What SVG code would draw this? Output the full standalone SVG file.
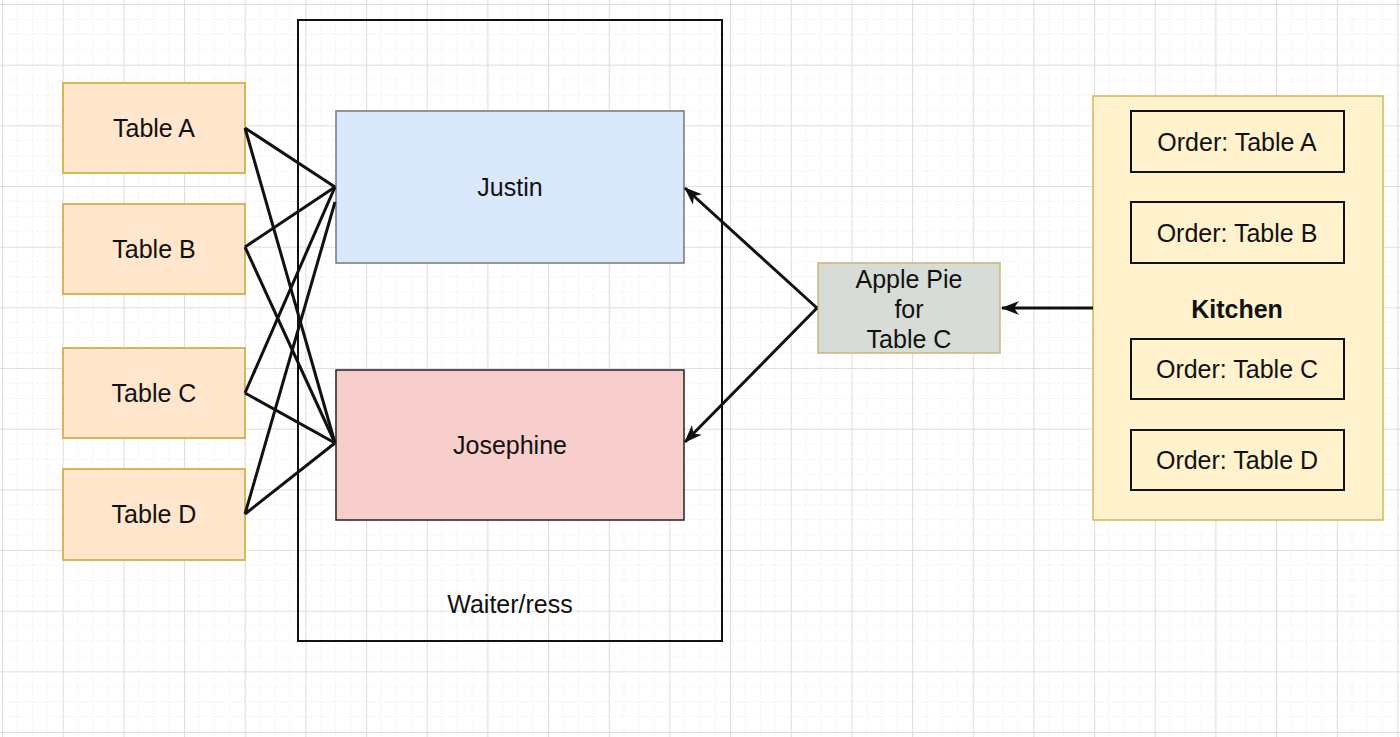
<svg xmlns="http://www.w3.org/2000/svg" width="1400" height="737" viewBox="0 0 1400 737">
<defs>
<pattern id="grid" x="2" y="4" width="60.67" height="60.67" patternUnits="userSpaceOnUse">
<path d="M15.17 0V60.67M30.33 0V60.67M45.5 0V60.67M0 15.17H60.67M0 30.33H60.67M0 45.5H60.67" fill="none" stroke="#e6e6e6" stroke-width="1" stroke-dasharray="1 2"/>
<path d="M0.5 0V60.67M0 0.5H60.67" fill="none" stroke="#dedede" stroke-width="1.2"/>
</pattern>
<marker id="arr" viewBox="0 0 18 14" refX="17" refY="7" markerWidth="18" markerHeight="14" markerUnits="userSpaceOnUse" orient="auto">
<path d="M0 0L18 7L0 14L5 7Z" fill="#111"/>
</marker>
<style>
text{font-family:"Liberation Sans",Arial,sans-serif;font-size:25px;fill:#111;text-anchor:middle}
.table{fill:#ffe6cc;stroke:#d6b656;stroke-width:2}
.order{fill:none;stroke:#111;stroke-width:2}
.edge{fill:none;stroke:#111;stroke-width:3}
</style>
</defs>
<rect width="1400" height="737" fill="#ffffff"/>
<rect width="1400" height="737" fill="url(#grid)"/>

<g id="waiters-container">
<rect x="298" y="20" width="424" height="621" fill="none" stroke="#111" stroke-width="2"/>
<text x="510" y="613">Waiter/ress</text>
</g>

<g id="table-a"><rect class="table" x="63" y="83" width="182" height="90"/><text x="154" y="137">Table A</text></g>
<g id="table-b"><rect class="table" x="63" y="204" width="182" height="90"/><text x="154" y="258">Table B</text></g>
<g id="table-c"><rect class="table" x="63" y="348" width="182" height="90"/><text x="154" y="402">Table C</text></g>
<g id="table-d"><rect class="table" x="63" y="469" width="182" height="91"/><text x="154" y="523">Table D</text></g>

<g id="justin"><rect x="336" y="111" width="348" height="152" fill="#dae8fc" stroke="#777" stroke-width="1.5"/><text x="510" y="196">Justin</text></g>
<g id="josephine"><rect x="336" y="370" width="348" height="150" fill="#f8cecc" stroke="#222" stroke-width="1.5"/><text x="510" y="454">Josephine</text></g>

<g id="apple-pie"><rect x="818" y="263" width="182" height="90" fill="#d8dcd6" stroke="#c9b77a" stroke-width="1.5"/>
<text x="909" y="288">Apple Pie</text><text x="909" y="318">for</text><text x="909" y="348">Table C</text></g>

<g id="kitchen"><rect x="1093" y="96" width="290" height="424" fill="#fff2cc" stroke="#d6b656" stroke-width="1.5"/>
<text x="1237" y="318" font-weight="bold">Kitchen</text></g>
<g id="order-a"><rect class="order" x="1131" y="111" width="213" height="61"/><text x="1237" y="151">Order: Table A</text></g>
<g id="order-b"><rect class="order" x="1131" y="202" width="213" height="61"/><text x="1237" y="242">Order: Table B</text></g>
<g id="order-c"><rect class="order" x="1131" y="339" width="213" height="60"/><text x="1237" y="378">Order: Table C</text></g>
<g id="order-d"><rect class="order" x="1131" y="430" width="213" height="60"/><text x="1237" y="469">Order: Table D</text></g>

<g id="connectors">
<path class="edge" d="M245 128L335 187"/>
<path class="edge" d="M245 128L335 443"/>
<path class="edge" d="M245 247L335 187"/>
<path class="edge" d="M245 247L335 443"/>
<path class="edge" d="M245 393L335 187"/>
<path class="edge" d="M245 393L335 443"/>
<path class="edge" d="M245 514L335 202"/>
<path class="edge" d="M245 514L335 443"/>
<path class="edge" d="M817 308L685 188" marker-end="url(#arr)"/>
<path class="edge" d="M817 308L685 442" marker-end="url(#arr)"/>
<path class="edge" d="M1093 308L1002 308" marker-end="url(#arr)"/>
</g>
</svg>
